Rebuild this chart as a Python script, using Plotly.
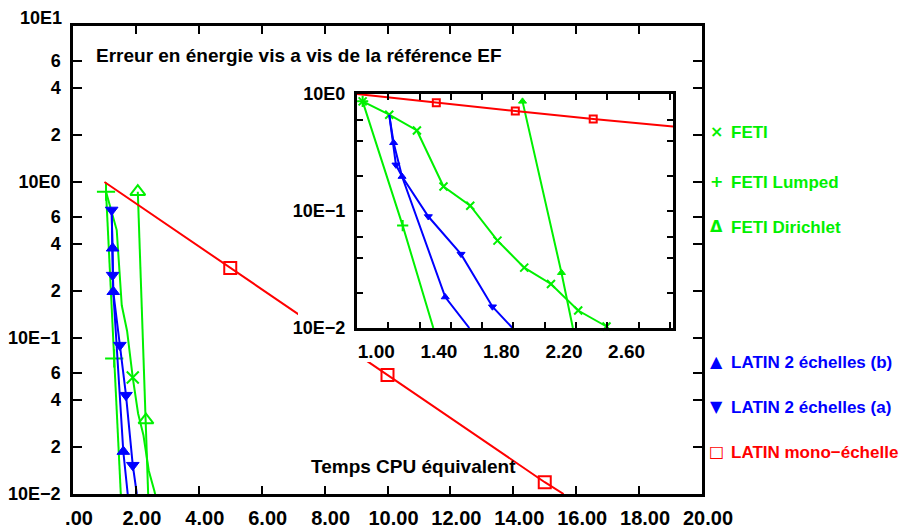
import plotly.graph_objects as go

GREEN = '#00f000'
BLUE = '#0000ff'
RED = '#ff0000'

# ---------------- main chart data ----------------
feti_x = [1.05, 1.39, 1.55, 1.72, 1.90, 2.07, 2.24, 2.41, 2.59, 2.62]
feti_y = [0.867, 0.492, 0.162, 0.111, 0.0558, 0.0328, 0.0238, 0.0141, 0.0104, 0.0098]
feti_marks = [4]

lump_x = [1.05, 1.31, 1.52]
lump_y = [0.867, 0.074, 0.01]
lump_marks = [0, 1]

diri_x = [2.06, 2.32, 2.39]
diri_y = [0.867, 0.0298, 0.01]
diri_marks = [0, 1]

latb_x = [1.23, 1.26, 1.28, 1.60, 1.74]
latb_y = [0.662, 0.376, 0.198, 0.0187, 0.01]
latb_marks = [1, 2, 3]

lata_x = [1.23, 1.26, 1.28, 1.49, 1.685, 1.90, 2.03]
lata_y = [0.662, 0.253, 0.198, 0.090, 0.043, 0.0153, 0.01]
lata_marks = [0, 1, 3, 4, 5]

mono_x = [1.0, 5.0, 10.0, 15.0, 15.6]
mono_y = [1.0, 0.281, 0.058, 0.0119, 0.01]
mono_marks = [1, 2, 3]

# ---------------- inset data ----------------
i_feti_x = [0.836, 1.006, 1.183, 1.353, 1.524, 1.698, 1.869, 2.040, 2.214, 2.395]
i_feti_y = [0.865, 0.665, 0.488, 0.162, 0.111, 0.0558, 0.0328, 0.0238, 0.0141, 0.0103]
i_feti_marks = [0, 1, 2, 3, 4, 5, 6, 7, 8, 9]

i_lump_x = [0.836, 1.092, 1.288]
i_lump_y = [0.865, 0.075, 0.01]
i_lump_marks = [0, 1]

i_diri_x = [1.858, 2.107, 2.18]
i_diri_y = [0.865, 0.0297, 0.01]
i_diri_marks = [0, 1]

i_latb_x = [1.006, 1.034, 1.088, 1.364, 1.518]
i_latb_y = [0.664, 0.383, 0.197, 0.0184, 0.01]
i_latb_marks = [1, 2, 3]

i_lata_x = [1.006, 1.049, 1.088, 1.256, 1.465, 1.666, 1.794]
i_lata_y = [0.664, 0.248, 0.197, 0.0897, 0.0428, 0.0152, 0.01]
i_lata_marks = [1, 3, 4, 5]

i_mono_x = [0.80, 1.307, 1.812, 2.31, 2.82]
i_mono_y = [1.0, 0.842, 0.716, 0.611, 0.528]
i_mono_marks = [1, 2, 3]

# ---------------- ticks ----------------
main_xticks = [0, 2, 4, 6, 8, 10, 12, 14, 16, 18, 20]
main_xtext = ['.00', '2.00', '4.00', '6.00', '8.00', '10.00', '12.00', '14.00', '16.00', '18.00', '20.00']
main_yticks = [0.01, 0.02, 0.04, 0.06, 0.1, 0.2, 0.4, 0.6, 1, 2, 4, 6, 10]
main_ytext = ['10E−2', '2', '4', '6', '10E−1', '2', '4', '6', '10E0', '2', '4', '6', '']

ins_xticks = [1.0, 1.2, 1.4, 1.6, 1.8, 2.0, 2.2, 2.4, 2.6, 2.8]
ins_xtext = ['1.00', '', '1.40', '', '1.80', '', '2.20', '', '2.60', '']
ins_yticks = [0.01, 0.02, 0.04, 0.06, 0.1, 0.2, 0.4, 0.6, 1]
ins_ytext = ['10E−2', '', '', '', '10E−1', '', '', '', '10E0']

legend_labels = ['FETI', 'FETI Lumped', 'FETI Dirichlet',
                 'LATIN 2 échelles (b)', 'LATIN 2 échelles (a)', 'LATIN mono−échelle']
legend_glyphs = ['×', '+', 'Δ', '▲', '▼', '□']

# ---------------- layout constants ----------------
PAGE_OFF = 8                      # default body margin of the html page
W, H = 919 - PAGE_OFF, 531 - PAGE_OFF
L, R, T, B = 73, 702, 26, 494     # plot frame in screen pixels
FONT = 'Liberation Sans, Arial, sans-serif'


def px(xp):
    return (xp - L) / (R - L)


def py(yp):
    return (B - yp) / (B - T)


fig = go.Figure()


def add_series(x, y, marks, color, symbol, msize, mwidth, xa, ya, lw=2):
    fig.add_trace(go.Scatter(x=x, y=y, mode='lines', line=dict(color=color, width=lw),
                             xaxis=xa, yaxis=ya, showlegend=False, hoverinfo='skip'))
    fig.add_trace(go.Scatter(x=[x[i] for i in marks], y=[y[i] for i in marks], mode='markers',
                             marker=dict(symbol=symbol, size=msize, color=color,
                                         line=dict(color=color, width=mwidth)),
                             xaxis=xa, yaxis=ya, showlegend=False, hoverinfo='skip', cliponaxis=False))


# main
add_series(feti_x, feti_y, feti_marks, GREEN, 'x-thin-open', 12, 2, 'x', 'y')
add_series(lump_x, lump_y, lump_marks, GREEN, 'cross-thin-open', 13, 2, 'x', 'y')
add_series(diri_x, diri_y, diri_marks, GREEN, 'triangle-up-open', 13, 2, 'x', 'y')
add_series(latb_x, latb_y, latb_marks, BLUE, 'triangle-up', 11, 1, 'x', 'y')
add_series(lata_x, lata_y, lata_marks, BLUE, 'triangle-down', 11, 1, 'x', 'y')
add_series(mono_x, mono_y, mono_marks, RED, 'square-open', 12, 2, 'x', 'y')

# cover subplot (white background hiding main data behind inset)
fig.add_trace(go.Scatter(x=[], y=[], xaxis='x2', yaxis='y2', showlegend=False))

# inset
add_series(i_feti_x, i_feti_y, i_feti_marks, GREEN, 'x-thin-open', 8, 2, 'x3', 'y3')
add_series(i_lump_x, i_lump_y, i_lump_marks, GREEN, 'cross-thin-open', 8, 2, 'x3', 'y3')
add_series(i_diri_x, i_diri_y, i_diri_marks, GREEN, 'triangle-up', 7, 1, 'x3', 'y3')
add_series(i_latb_x, i_latb_y, i_latb_marks, BLUE, 'triangle-up', 7, 1, 'x3', 'y3')
add_series(i_lata_x, i_lata_y, i_lata_marks, BLUE, 'triangle-down', 7, 1, 'x3', 'y3')
add_series(i_mono_x, i_mono_y, i_mono_marks, RED, 'square-open', 7, 2, 'x3', 'y3')

axis_common = dict(showgrid=False, zeroline=False, showline=True, linecolor='black',
                   ticks='inside', tickcolor='black', mirror='ticks', automargin=False)

fig.update_layout(
    template='none',
    width=W, height=H,
    margin=dict(l=L - PAGE_OFF, r=W - (R - PAGE_OFF), t=T - PAGE_OFF, b=H - (B - PAGE_OFF),
                pad=0, autoexpand=False),
    paper_bgcolor='white', plot_bgcolor='white',
    showlegend=False,
    font=dict(family=FONT, color='black'),
    xaxis=dict(domain=[0, 1], range=[0, 20], tickvals=main_xticks, ticktext=main_xtext,
               ticklen=8, tickwidth=2, linewidth=2.5, anchor='y',
               tickfont=dict(size=20, weight=700),
               ticklabelshift=6, ticklabelstandoff=4, **axis_common),
    yaxis=dict(domain=[0, 1], type='log', range=[-2, 1], tickvals=main_yticks, ticktext=main_ytext,
               ticklen=9, tickwidth=2, linewidth=2.5, anchor='x',
               tickfont=dict(size=18, weight=700), ticklabelstandoff=6, **axis_common),
    xaxis2=dict(domain=[px(298), px(690)], range=[0, 1], visible=False, anchor='y2', automargin=False),
    yaxis2=dict(domain=[py(362), py(76)], range=[0, 1], visible=False, anchor='x2', automargin=False),
    xaxis3=dict(domain=[px(357), px(673)], range=[0.8, 2.82], tickvals=ins_xticks, ticktext=ins_xtext,
                ticklen=6, tickwidth=2, linewidth=3, anchor='y3',
                tickfont=dict(size=19, weight=700), ticklabelshift=-12, ticklabelstandoff=4,
                **axis_common),
    yaxis3=dict(domain=[py(328), py(94)], type='log', range=[-2, 0], tickvals=ins_yticks,
                ticktext=ins_ytext, ticklen=6, tickwidth=2, linewidth=3, anchor='x3',
                tickfont=dict(size=18, weight=700), ticklabelstandoff=5, **axis_common),
)

ann = []
ann.append(dict(text='10E1', x=px(64), y=py(18), xanchor='right', yanchor='middle',
                font=dict(size=18, weight=700)))
ann.append(dict(text='Erreur en énergie vis a vis de la référence EF', x=px(94), y=py(55),
                xanchor='left', yanchor='middle', font=dict(size=19, weight=700)))
ann.append(dict(text='Temps CPU équivalent', x=px(309), y=py(466),
                xanchor='left', yanchor='middle', font=dict(size=19, weight=700)))

legend_colors = [GREEN, GREEN, GREEN, BLUE, BLUE, RED]
legend_ys = [133, 182, 227, 362, 407, 452]
for lab, gl, col, yy in zip(legend_labels, legend_glyphs, legend_colors, legend_ys):
    ann.append(dict(text=gl, x=px(716), y=py(yy - 1), xanchor='center', yanchor='middle',
                    font=dict(size=16, color=col, family='DejaVu Sans', weight=700)))
    ann.append(dict(text=lab, x=px(729), y=py(yy), xanchor='left', yanchor='middle',
                    font=dict(size=17, color=col, weight=700)))

for a in ann:
    a.update(xref='paper', yref='paper', showarrow=False)
fig.update_layout(annotations=ann)

fig.write_html('out.html')
